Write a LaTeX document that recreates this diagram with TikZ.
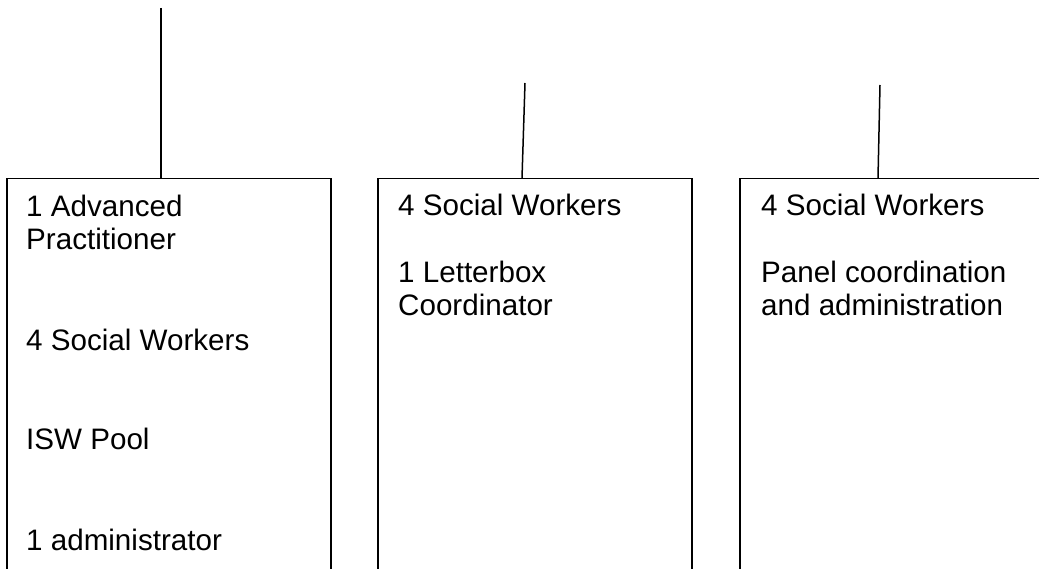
\documentclass[tikz,border=0pt]{standalone}
\usepackage{fontspec}
\setmainfont{Liberation Sans}
\tikzset{
  boxstyle/.style={draw, line width=1.5pt, rectangle, inner sep=0pt, anchor=north west, minimum height=450pt},
  lbl/.style={anchor=base west, inner sep=0pt, font=\fontsize{29.6}{33}\selectfont},
  conn/.style={line width=1.5pt}
}
\begin{document}
\begin{tikzpicture}[x=1pt,y=-1pt]
\useasboundingbox (0,0) rectangle (1039,569);
\clip (0,0) rectangle (1039,569);
\node[boxstyle, minimum width=324pt] (b1) at (6,178) {};
\node[boxstyle, minimum width=314pt] (b2) at (377,178) {};
\node[boxstyle, minimum width=400pt] (b3) at (739,178) {};
\coordinate (t1) at (161,8);
\coordinate (t2) at (525,83);
\coordinate (t3) at (880,85);
\draw[conn] (t1) -- ([xshift=155pt]b1.north west);
\draw[conn] (t2) -- ([xshift=145pt]b2.north west);
\draw[conn] (t3) -- ([xshift=139pt]b3.north west);
% box 1
\node[lbl] (l11) at (26,217) {1 Advanced};
\node[lbl] (l12) at (26,250) {Practitioner};
\node[lbl] (l13) at (26,350) {4 Social Workers};
\node[lbl] (l14) at (26,449) {ISW Pool};
\node[lbl] (l15) at (26,550) {1 administrator};
% box 2
\node[lbl] (l21) at (398,216) {4 Social Workers};
\node[lbl] (l22) at (398,283) {1 Letterbox};
\node[lbl] (l23) at (398,316) {Coordinator};
% box 3
\node[lbl] (l31) at (761,216) {4 Social Workers};
\node[lbl] (l32) at (761,283) {Panel coordination};
\node[lbl] (l33) at (761,316) {and administration};
\end{tikzpicture}
\end{document}
